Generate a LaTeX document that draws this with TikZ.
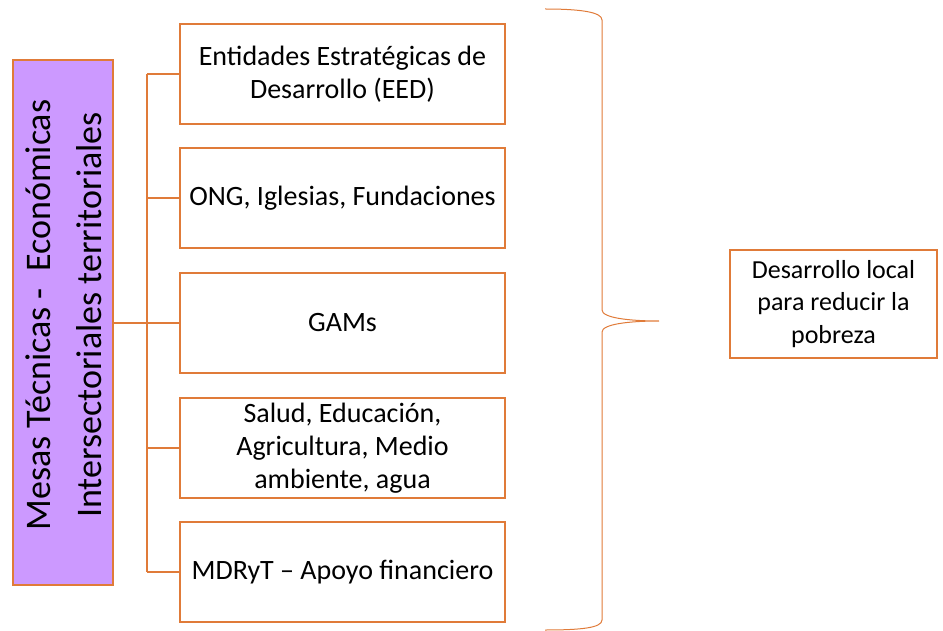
\documentclass[tikz,border=0pt]{standalone}
\usepackage{fontspec}
\setmainfont{Carlito}
\definecolor{orng}{HTML}{E07B39}
\definecolor{lav}{HTML}{CC99FF}
\begin{document}
\begin{tikzpicture}[x=1pt,y=-1pt,
  box/.style={draw=orng,line width=1.3pt,fill=white,minimum width=325pt,minimum height=100pt,align=center,inner sep=0pt,font=\fontsize{28}{33}\selectfont},
  conn/.style={draw=orng,line width=1.2pt}]
\useasboundingbox (0,0) rectangle (943,631);
\node[draw=orng,line width=1.3pt,fill=lav,minimum width=100pt,minimum height=525pt,inner sep=0pt] (L) at (63,322.5) {};
\node[rotate=90,font=\fontsize{36}{43}\selectfont] (L1) at (38,315) {Mesas Técnicas -\ \ Económicas};
\node[rotate=90,font=\fontsize{36}{43}\selectfont] (L2) at (89,315) {Intersectoriales territoriales};
\node[box] (b1) at (342.5,74) {Entidades Estratégicas de\\Desarrollo (EED)};
\node[box] (b2) at (342.5,198) {ONG, Iglesias, Fundaciones};
\node[box] (b3) at (342.5,323) {GAMs};
\node[box] (b4) at (342.5,448) {Salud, Educación,\\Agricultura, Medio\\ambiente, agua};
\node[box] (b5) at (342.5,572) {MDRyT -- Apoyo financiero};
\coordinate (j) at (147,323);
\draw[conn] (L.east |- j) -- (j);
\draw[conn] (j |- b1.west) -- (j |- b5.west);
\foreach \b in {b1,b2,b3,b4,b5} \draw[conn] (j |- \b.west) -- (\b.west);
\node[draw=orng,line width=1.3pt,minimum width=207pt,minimum height=108pt,align=center,inner sep=0pt,font=\fontsize{26}{32.5}\selectfont] (R) at (833.5,304) {Desarrollo local\\para reducir la\\pobreza};
\coordinate (tip) at (659,321);
\draw[orng,line width=1pt] (545,9) .. controls (580,9) and (602,12) .. (602,20) -- (602,310) .. controls (602,318) and (630,321) .. (tip) .. controls (630,321) and (602,324) .. (602,332) -- (602,620) .. controls (602,628) and (580,630) .. (545,630);
\end{tikzpicture}
\end{document}
